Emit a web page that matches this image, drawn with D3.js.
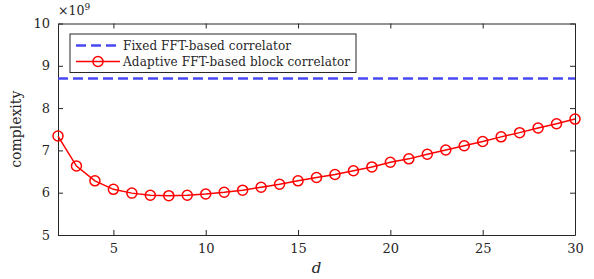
<!DOCTYPE html>
<html>
<head>
<meta charset="utf-8">
<script src="https://cdn.jsdelivr.net/npm/d3@7"></script>
<style>
  body { margin: 0; background: #fff; }
  svg text { font-family: "DejaVu Serif", serif !important; fill: #262626; }
  .axis path, .axis line { stroke: #262626; }
</style>
</head>
<body>
<script>
// data (complexity in units of 1e9)
var dValues = [2,3,4,5,6,7,8,9,10,11,12,13,14,15,16,17,18,19,20,21,22,23,24,25,26,27,28,29,30];
var adaptive = [7.34,6.63,6.28,6.08,5.99,5.94,5.93,5.94,5.97,6.01,6.06,6.13,6.20,6.28,6.36,6.43,6.52,6.61,6.72,6.80,6.91,7.01,7.11,7.21,7.32,7.42,7.53,7.63,7.74];
var fixedLevel = 8.70;
var xTicks = [5,10,15,20,25,30];
var yTicks = [5,6,7,8,9,10];
var legendLabels = ["Fixed FFT-based correlator", "Adaptive FFT-based block correlator"];

var W = 594, H = 279;
var margin = {top: 23.5, right: 19, bottom: 44, left: 58};
var width = W - margin.left - margin.right,
    height = H - margin.top - margin.bottom;

var svg = d3.select("body").append("svg")
    .attr("width", W).attr("height", H)
  .append("g")
    .attr("transform", "translate(" + margin.left + "," + margin.top + ")");

var x = d3.scaleLinear().domain([2, 30]).range([0, width]);
var y = d3.scaleLinear().domain([5, 10]).range([height, 0]);

// axes, ticks pointing inward
svg.append("g").attr("class", "axis")
    .attr("transform", "translate(0," + height + ")")
    .call(d3.axisBottom(x).tickValues(xTicks).tickSizeInner(-5).tickSizeOuter(0).tickPadding(9).tickFormat(d3.format("d")))
    .call(function(g) { g.selectAll("text").attr("font-size", 13); });
svg.append("g").attr("class", "axis")
    .call(d3.axisTop(x).tickValues(xTicks).tickSizeInner(-5).tickSizeOuter(0).tickFormat(""));
svg.append("g").attr("class", "axis")
    .call(d3.axisLeft(y).tickValues(yTicks).tickSizeInner(-5).tickSizeOuter(0).tickPadding(8).tickFormat(d3.format("d")))
    .call(function(g) { g.selectAll("text").attr("font-size", 13); });
svg.append("g").attr("class", "axis")
    .attr("transform", "translate(" + width + ",0)")
    .call(d3.axisRight(y).tickValues(yTicks).tickSizeInner(-5).tickSizeOuter(0).tickFormat(""));
svg.selectAll(".axis .domain").attr("stroke-width", 1);

// exponent label
var expo = svg.append("text").attr("x", 0).attr("y", -9).attr("font-size", 12.5);
expo.append("tspan").text("\u00d710");
expo.append("tspan").attr("dy", -5).attr("font-size", 9).text("9");

// axis labels
svg.append("text")
    .attr("x", width / 2).attr("y", height + 38)
    .attr("text-anchor", "middle").attr("font-size", 15).attr("font-style", "italic")
    .text("d");
svg.append("text")
    .attr("transform", "rotate(-90)")
    .attr("x", -height / 2).attr("y", -37)
    .attr("text-anchor", "middle").attr("font-size", 14)
    .text("complexity");

// fixed correlator
svg.append("line")
    .attr("x1", x(2)).attr("x2", x(30))
    .attr("y1", y(fixedLevel)).attr("y2", y(fixedLevel))
    .attr("stroke", "#4848f2").attr("stroke-width", 2.5)
    .attr("stroke-dasharray", "10,5");

// adaptive correlator
var line = d3.line().x(function(d, i) { return x(dValues[i]); }).y(function(d) { return y(d); });
svg.append("path").datum(adaptive)
    .attr("d", line).attr("fill", "none")
    .attr("stroke", "#ff0000").attr("stroke-width", 1.5);
svg.selectAll(".pt").data(adaptive).enter()
  .append("circle")
    .attr("cx", function(d, i) { return x(dValues[i]); })
    .attr("cy", function(d) { return y(d); })
    .attr("r", 5)
    .attr("fill", "none").attr("stroke", "#ff0000").attr("stroke-width", 1.5);

// legend
var lg = svg.append("g").attr("transform", "translate(12,10.5)");
lg.append("rect").attr("width", 286).attr("height", 38.5)
    .attr("fill", "#fff").attr("stroke", "#262626").attr("stroke-width", 1);
lg.append("line").attr("x1", 6).attr("x2", 50).attr("y1", 11.5).attr("y2", 11.5)
    .attr("stroke", "#4848f2").attr("stroke-width", 2.5).attr("stroke-dasharray", "10,5");
lg.append("line").attr("x1", 6).attr("x2", 50).attr("y1", 27.5).attr("y2", 27.5)
    .attr("stroke", "#ff0000").attr("stroke-width", 1.5);
lg.append("circle").attr("cx", 28).attr("cy", 27.5).attr("r", 5)
    .attr("fill", "none").attr("stroke", "#ff0000").attr("stroke-width", 1.5);
lg.selectAll(".lt").data(legendLabels).enter()
  .append("text")
    .attr("x", 53).attr("y", function(d, i) { return 15.5 + i * 16; })
    .attr("font-size", 12)
    .attr("textLength", function(d, i) { return i ? 227 : 168; })
    .text(function(d) { return d; });
</script>
</body>
</html>
